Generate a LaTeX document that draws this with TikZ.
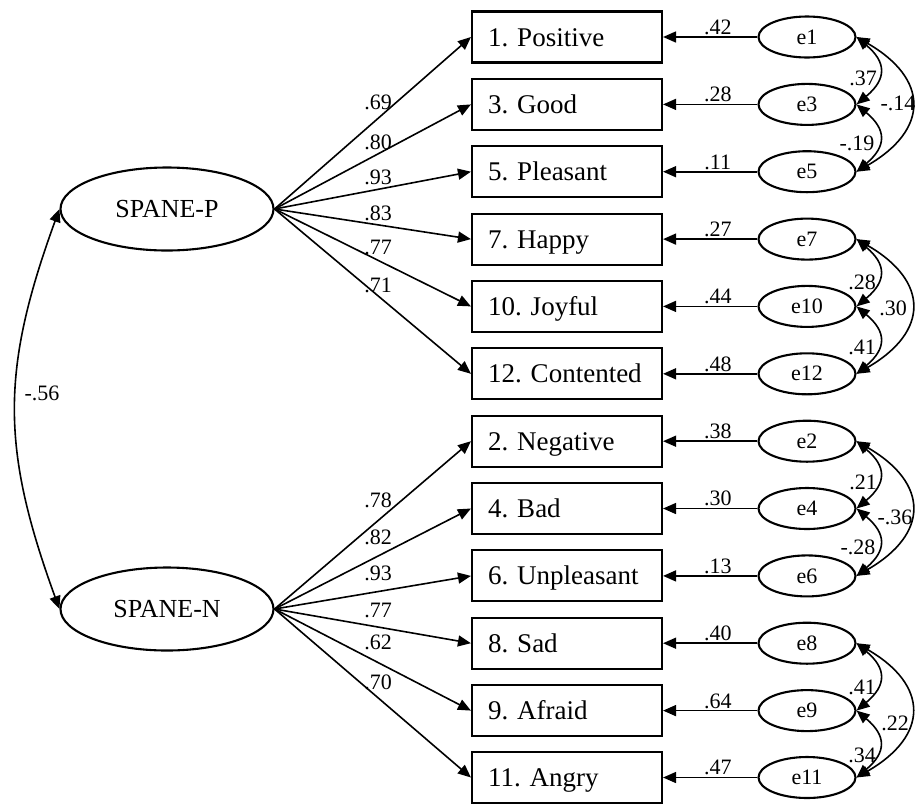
\documentclass[tikz,border=0pt]{standalone}
\usepackage{fontspec}
\setmainfont{Liberation Serif}
\usetikzlibrary{arrows.meta,shapes.geometric}
\frenchspacing
\begin{document}
\begin{tikzpicture}[x=1pt,y=1pt,
  obs/.style={draw, line width=2.1pt, minimum height=51pt, text width=158pt, inner xsep=16pt, align=left, text height=21pt, text depth=3pt, font=\fontsize{27}{30}\selectfont},
  lat/.style={draw, ellipse, line width=2.1pt, minimum width=213pt, minimum height=83pt, inner sep=0pt, font=\fontsize{26}{30}\selectfont},
  err/.style={draw, ellipse, line width=2.1pt, minimum width=97pt, minimum height=41pt, inner sep=0pt, font=\fontsize{22}{26}\selectfont},
  arr/.style={-{Triangle[length=13pt,width=11pt]}, line width=1.6pt},
  dbl/.style={{Triangle[length=13pt,width=11pt]}-{Triangle[length=13pt,width=11pt]}, line width=1.6pt},
  lbl/.style={font=\fontsize{22}{26}\selectfont, inner sep=0pt},
  elbl/.style={lbl, above, inner sep=1.5pt},
  shortcov/.style={dbl, out=-40, in=40, looseness=1.5},
  longcov/.style={dbl, out=-30, in=30, looseness=1.6}
]
\useasboundingbox (0,0) rectangle (915,-804);

% latent variables
\node[lat] (P) at (167,-209) {SPANE-P};
\node[lat] (N) at (167,-609) {SPANE-N};

% observed variables
\node[obs] (b1)  at (567,-37)    {1. Positive};
\node[obs] (b3)  at (567,-104.4) {3. Good};
\node[obs] (b5)  at (567,-171.7) {5. Pleasant};
\node[obs] (b7)  at (567,-239.1) {7. Happy};
\node[obs] (b10) at (567,-306.4) {10. Joyful};
\node[obs] (b12) at (567,-373.8) {12. Contented};
\node[obs] (b2)  at (567,-441.2) {2. Negative};
\node[obs] (b4)  at (567,-508.5) {4. Bad};
\node[obs] (b6)  at (567,-575.9) {6. Unpleasant};
\node[obs] (b8)  at (567,-643.2) {8. Sad};
\node[obs] (b9)  at (567,-710.6) {9. Afraid};
\node[obs] (b11) at (567,-777.5) {11. Angry};

% error terms
\node[err] (e1)  at (807,-37)    {e1};
\node[err] (e3)  at (807,-104.4) {e3};
\node[err] (e5)  at (807,-171.7) {e5};
\node[err] (e7)  at (807,-239.1) {e7};
\node[err] (e10) at (807,-306.4) {e10};
\node[err] (e12) at (807,-373.8) {e12};
\node[err] (e2)  at (807,-441.2) {e2};
\node[err] (e4)  at (807,-508.5) {e4};
\node[err] (e6)  at (807,-575.9) {e6};
\node[err] (e8)  at (807,-643.2) {e8};
\node[err] (e9)  at (807,-710.6) {e9};
\node[err] (e11) at (807,-777.5) {e11};

% loadings
\foreach \b in {b1,b3,b5,b7,b10,b12} \draw[arr] (P.east) -- (\b.west);
\foreach \b in {b2,b4,b6,b8,b9,b11} \draw[arr] (N.east) -- (\b.west);

\node[lbl] (l1)  at (378,-102) {.69};
\node[lbl] (l3)  at (378,-142) {.80};
\node[lbl] (l5)  at (378,-177) {.93};
\node[lbl] (l7)  at (378,-213) {.83};
\node[lbl] (l10) at (378,-247) {.77};
\node[lbl] (l12) at (378,-285) {.71};
\node[lbl] (l2)  at (378,-500) {.78};
\node[lbl] (l4)  at (378,-537) {.82};
\node[lbl] (l6)  at (378,-573) {.93};
\node[lbl] (l8)  at (378,-610) {.77};
\node[lbl] (l9)  at (378,-642) {.62};
\node[lbl] (l11) at (378,-682) {.70};

% error paths
\draw[arr] (e1.west)  -- node[elbl, pos=0.42] {.42} (b1.east);
\draw[arr] (e3.west)  -- node[elbl, pos=0.42] {.28} (b3.east);
\draw[arr] (e5.west)  -- node[elbl, pos=0.42] {.11} (b5.east);
\draw[arr] (e7.west)  -- node[elbl, pos=0.42] {.27} (b7.east);
\draw[arr] (e10.west) -- node[elbl, pos=0.42] {.44} (b10.east);
\draw[arr] (e12.west) -- node[elbl, pos=0.42] {.48} (b12.east);
\draw[arr] (e2.west)  -- node[elbl, pos=0.42] {.38} (b2.east);
\draw[arr] (e4.west)  -- node[elbl, pos=0.42] {.30} (b4.east);
\draw[arr] (e6.west)  -- node[elbl, pos=0.42] {.13} (b6.east);
\draw[arr] (e8.west)  -- node[elbl, pos=0.42] {.40} (b8.east);
\draw[arr] (e9.west)  -- node[elbl, pos=0.42] {.64} (b9.east);
\draw[arr] (e11.west) -- node[elbl, pos=0.42] {.47} (b11.east);

% latent covariance
\draw[dbl] (P.west) to[out=-110, in=110, looseness=1.1] (N.west);
\node[lbl] (cPN) at (42,-393) {-.56};

% error covariances
\draw[shortcov] (e1.east) to (e3.east);
\draw[shortcov] (e3.east) to (e5.east);
\draw[longcov]  (e1.east) to (e5.east);
\node[lbl] (c13) at (863,-78)  {.37};
\node[lbl] (c15) at (898,-103) {-.14};
\node[lbl] (c35) at (857,-143) {-.19};

\draw[shortcov] (e7.east) to (e10.east);
\draw[shortcov] (e10.east) to (e12.east);
\draw[longcov]  (e7.east) to (e12.east);
\node[lbl] (c710)  at (862,-282) {.28};
\node[lbl] (c712)  at (893,-308) {.30};
\node[lbl] (c1012) at (862,-347) {.41};

\draw[shortcov] (e2.east) to (e4.east);
\draw[shortcov] (e4.east) to (e6.east);
\draw[longcov]  (e2.east) to (e6.east);
\node[lbl] (c24) at (863,-482) {.21};
\node[lbl] (c26) at (895,-517) {-.36};
\node[lbl] (c46) at (858,-547) {-.28};

\draw[shortcov] (e8.east) to (e9.east);
\draw[shortcov] (e9.east) to (e11.east);
\draw[longcov]  (e8.east) to (e11.east);
\node[lbl] (c89)  at (862,-687) {.41};
\node[lbl] (c811) at (895,-723) {.22};
\node[lbl] (c911) at (862,-755) {.34};
\end{tikzpicture}
\end{document}
